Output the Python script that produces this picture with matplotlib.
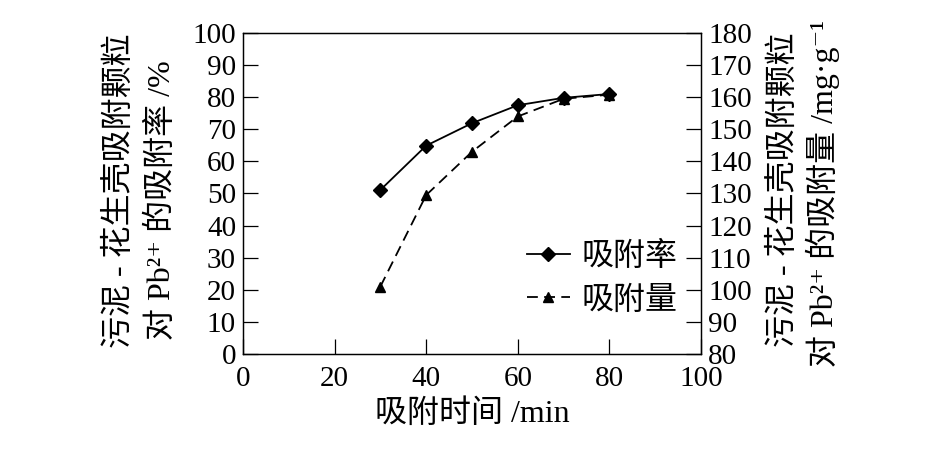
import matplotlib

matplotlib.use("Agg")
import matplotlib.pyplot as plt

FONTS = ["Liberation Serif", "Noto Sans CJK SC", "DejaVu Serif"]
plt.rcParams["font.family"] = FONTS

# data
time_min = [30, 40, 50, 60, 70, 80]
rate_pct = [51.1, 64.9, 71.9, 77.5, 79.8, 81.0]
amount_mg_g = [101.0, 129.5, 143.0, 154.0, 159.5, 160.8]

x_ticks = [0, 20, 40, 60, 80, 100]
left_ticks = list(range(0, 101, 10))
right_ticks = list(range(80, 181, 10))

fig = plt.figure(figsize=(9.45, 4.49), dpi=100)
fig.patch.set_facecolor("white")
ax = fig.add_axes([0.2571, 0.2116, 0.4847, 0.7149])
ax2 = ax.twinx()

l1, = ax.plot(time_min, rate_pct, color="black", lw=1.3, marker="D", ms=7, label="吸附率", zorder=4)
l2, = ax2.plot(time_min, amount_mg_g, color="black", lw=1.3, ls=(0, (6, 3.5)), marker="^", ms=6.5,
               label="吸附量", zorder=3)

ax.set_xlim(0, 100)
ax.set_ylim(0, 100)
ax2.set_ylim(80, 180)
ax.set_xticks(x_ticks)
ax.set_yticks(left_ticks)
ax2.set_yticks(right_ticks)

for a in (ax, ax2):
    for sp in a.spines.values():
        sp.set_linewidth(0.9)
        sp.set_color("black")
ax.tick_params(axis="y", direction="in", length=11, width=0.9, labelsize=21, pad=5, right=False)
ax.tick_params(axis="x", direction="in", length=11, width=0.9, labelsize=21, pad=9, top=False)
ax2.tick_params(axis="y", direction="in", length=11, width=0.9, labelsize=21, pad=5)

ax.set_xlabel("吸附时间 /min", fontsize=23, labelpad=5)

fig.text(0.127, 0.575, "污泥 - 花生壳吸附颗粒", rotation=90, ha="center", va="center", fontsize=23)
fig.text(0.171, 0.555, "对 Pb²⁺ 的吸附率 /%", rotation=90, ha="center", va="center", fontsize=23)
fig.text(0.829, 0.577, "污泥 - 花生壳吸附颗粒", rotation=90, ha="center", va="center", fontsize=23)
fig.text(0.871, 0.568, "对 Pb²⁺ 的吸附量 /mg·g⁻¹", rotation=90, ha="center", va="center", fontsize=23)

ax.legend(handles=[l1, l2], loc="upper left", bbox_to_anchor=(0.585, 0.40), frameon=False,
          fontsize=23, borderpad=0, handlelength=1.35, handletextpad=0.35, labelspacing=0.45)

fig.savefig("out.png", dpi=100, facecolor="white")
